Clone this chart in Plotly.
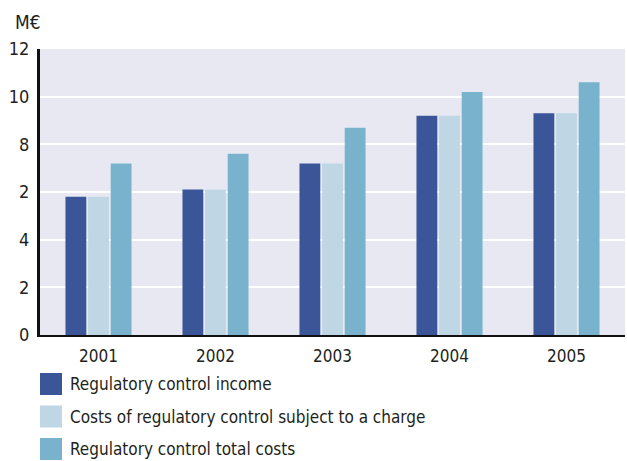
import plotly.graph_objects as go

years = ["2001", "2002", "2003", "2004", "2005"]
income = [5.8, 6.1, 7.2, 9.2, 9.3]
charged_costs = [5.8, 6.1, 7.2, 9.2, 9.3]
total_costs = [7.2, 7.6, 8.7, 10.2, 10.6]

series_names = [
    "Regulatory control income",
    "Costs of regulatory control subject to a charge",
    "Regulatory control total costs",
]
colors = ["#3A5699", "#BFD7E4", "#78B2CD"]

y_tickvals = [0, 2, 4, 6, 8, 10, 12]
y_ticktext = ["0", "2", "4", "2", "8", "10", "12"]

FONT = "DejaVu Sans Condensed, Liberation Sans, sans-serif"
TEXT = "#231F20"

fig = go.Figure()
for name, vals, col in zip(series_names, [income, charged_costs, total_costs], colors):
    fig.add_trace(go.Bar(x=years, y=vals, name=name, marker=dict(color=col, line=dict(width=0)),
                         showlegend=False))

W, H = 627, 461
ml, mr, mt, mb = 40, 2, 49, 126

fig.update_layout(
    width=W, height=H,
    margin=dict(l=ml, r=mr, t=mt, b=mb, pad=0),
    paper_bgcolor="white",
    plot_bgcolor="#E8E8F2",
    barmode="group",
    bargap=0.42,
    bargroupgap=0.08,
    font=dict(family=FONT, size=17, color=TEXT),
    xaxis=dict(showgrid=False, ticks="", tickfont=dict(size=17), showline=True,
               linecolor="#111111", linewidth=2, ticklabelstandoff=5),
    yaxis=dict(range=[0, 12], tickvals=y_tickvals, ticktext=y_ticktext,
               showgrid=True, gridcolor="white", gridwidth=2, zeroline=False,
               showline=True, linecolor="#111111", linewidth=3, ticks="",
               tickfont=dict(size=18), ticklabelstandoff=4),
)

pw, ph = W - ml - mr, H - mt - mb

# y-axis unit label
fig.add_annotation(xref="paper", yref="paper", x=(13 - ml) / pw,
                   y=(H - mb - 22) / ph, text="M€", showarrow=False,
                   xanchor="left", yanchor="middle", font=dict(size=19))

# legend drawn as swatches with labels below the plot
for i, (name, col) in enumerate(zip(series_names, colors)):
    cy = 384 + i * 32.5
    x0, x1 = 40, 62
    fig.add_shape(type="rect", xref="paper", yref="paper",
                  x0=(x0 - ml) / pw, x1=(x1 - ml) / pw,
                  y0=(H - mb - (cy + 11)) / ph, y1=(H - mb - (cy - 11)) / ph,
                  fillcolor=col, line=dict(width=0))
    fig.add_annotation(xref="paper", yref="paper", x=(68 - ml) / pw,
                       y=(H - mb - cy) / ph, text=name, showarrow=False,
                       xanchor="left", yanchor="middle", font=dict(size=17))

fig.write_html("out.html")
